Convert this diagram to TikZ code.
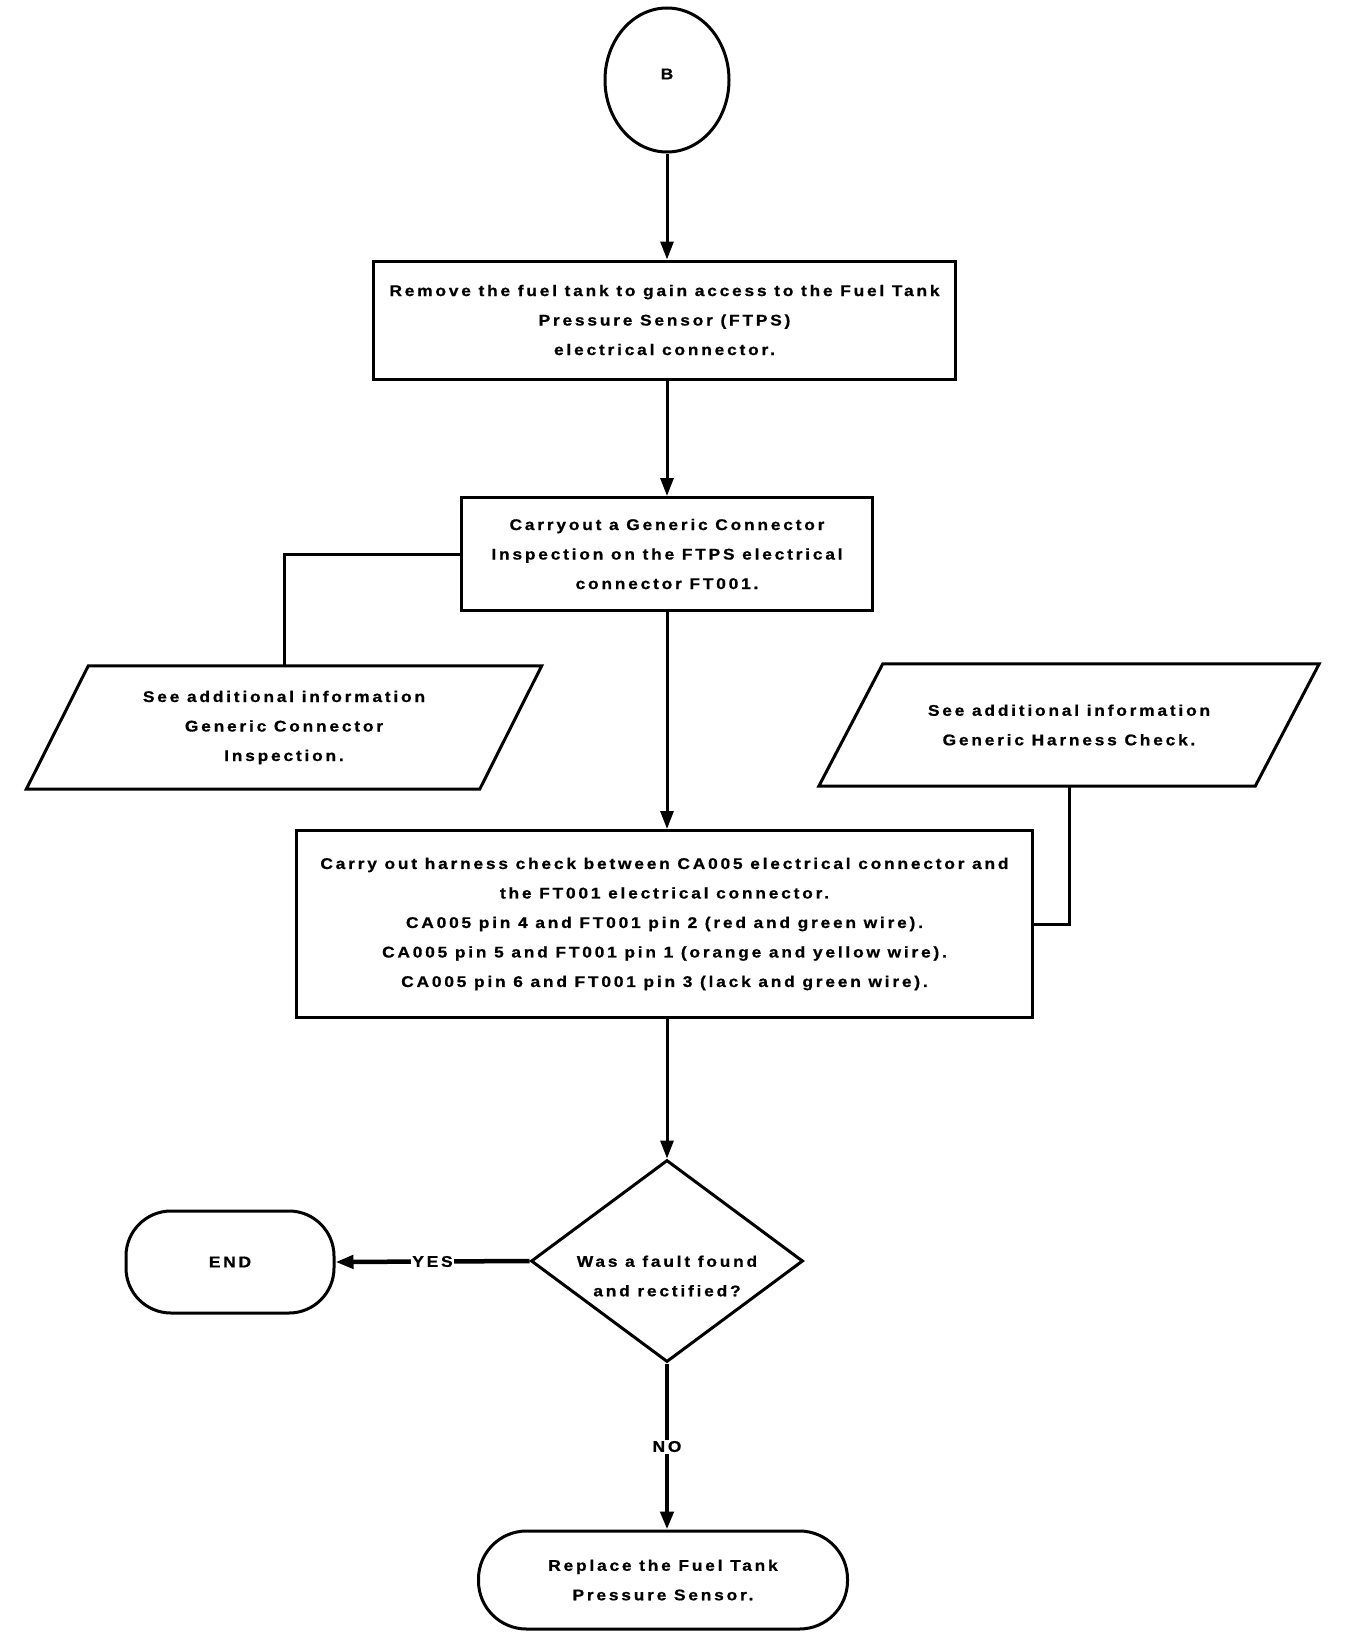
\documentclass[tikz,border=0pt]{standalone}
\usepackage{fontspec}
\setmainfont{Liberation Sans}[FakeStretch=1.12,LetterSpace=18,BoldFeatures={FakeBold=0.8}]
\usetikzlibrary{shapes.geometric,arrows.meta}

\begin{document}
\begin{tikzpicture}[x=1pt,y=-1pt,
    every node/.style={font=\fontsize{15.5pt}{29.5pt}\selectfont\bfseries,align=center,inner sep=0pt},
    stepbox/.style={draw,rectangle,line width=3pt},
    infobox/.style={rectangle},
    endbox/.style={draw,rectangle,line width=3pt},
    flow/.style={line width=3pt,-{Triangle[width=13pt,length=18pt]}},
    link/.style={line width=3pt},
    slant/.style={line width=3pt,line join=miter},
    answer/.style={fill=white,inner sep=1.5pt}]
  \useasboundingbox (0,0) rectangle (1344,1638);

  \node[draw,ellipse,line width=3pt,minimum width=124pt,minimum height=144pt] (B) at (667,80) {\raisebox{12pt}{B}};
  \node[stepbox,minimum width=582pt,minimum height=118pt] (remove) at (664.5,320)
    {Remove the fuel tank to gain access to the Fuel Tank\\Pressure Sensor (FTPS)\\electrical connector.};
  \node[stepbox,minimum width=411pt,minimum height=113pt] (inspect) at (667,554)
    {Carryout a Generic Connector\\Inspection on the FTPS electrical\\connector FT001.};
  \node[infobox,minimum width=453pt,minimum height=123pt] (seeconn) at (284,727.5)
    {See additional information\\Generic Connector\\Inspection.};
  \node[infobox,minimum width=436pt,minimum height=122pt] (seeharn) at (1069,725)
    {See additional information\\Generic Harness Check.};
  \node[stepbox,minimum width=736pt,minimum height=187pt] (harness) at (664.5,924)
    {Carry out harness check between CA005 electrical connector and\\the FT001 electrical connector.\\
     CA005 pin 4 and FT001 pin 2 (red and green wire).\\
     CA005 pin 5 and FT001 pin 1 (orange and yellow wire).\\
     CA005 pin 6 and FT001 pin 3 (lack and green wire).};
  \node[draw,diamond,line width=3pt,minimum width=272pt,minimum height=202pt,
    label={[yshift=-15pt,align=center]center:Was a fault found\\and rectified?}] (fault) at (667,1261) {};
  \node[endbox,rounded corners=45pt,minimum width=208pt,minimum height=102pt] (end) at (230,1262) {END};
  \node[endbox,rounded corners=48pt,minimum width=369pt,minimum height=98pt] (replace) at (663,1580)
    {Replace the Fuel Tank\\Pressure Sensor.};

  \draw[slant] ([xshift=31pt]seeconn.north west) -- ([xshift=31pt]seeconn.north east)
    -- ([xshift=-31pt]seeconn.south east) -- ([xshift=-31pt]seeconn.south west) -- cycle;
  \draw[slant] ([xshift=32pt]seeharn.north west) -- ([xshift=32pt]seeharn.north east)
    -- ([xshift=-32pt]seeharn.south east) -- ([xshift=-32pt]seeharn.south west) -- cycle;

  \draw[flow] (B) -- (B |- remove.north);
  \draw[flow] (B |- remove.south) -- (inspect);
  \draw[link] (inspect.west) -| (seeconn.north);
  \draw[flow] (inspect.south) -- (inspect.south |- harness.north);
  \draw[link] (seeharn.south) |- (harness.east);
  \draw[flow] (harness.south -| fault.north) -- (fault.north);
  \draw[flow,line width=4.5pt] (fault.west) -- node[answer] {YES} (end.east);
  \draw[flow,line width=4.5pt] (fault.south) -- node[answer] {NO} (fault.south |- replace.north);
\end{tikzpicture}
\end{document}
